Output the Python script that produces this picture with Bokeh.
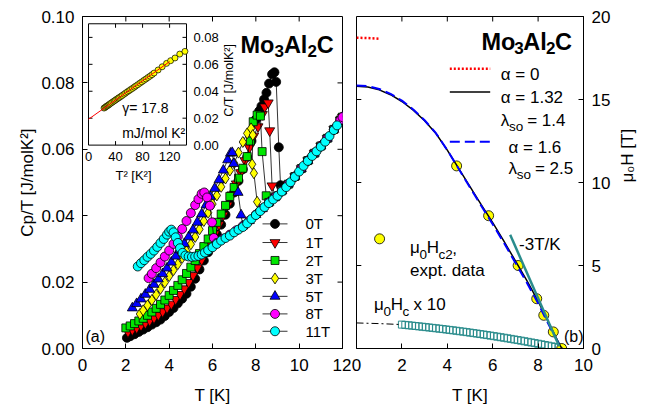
from math import pi
from bokeh.plotting import figure
from bokeh.models import Range1d, PrintfTickFormatter, Label
from bokeh.layouts import row
from bokeh.embed import file_html
from bokeh.resources import INLINE

FONT = "Liberation Sans"

# ---------------- Panel (a): Cp/T vs T ----------------
fields = ["0T", "1T", "2T", "3T", "5T", "8T", "11T"]
field_colors = ["#000000", "#ff0000", "#00e600", "#ffff00", "#0000ff", "#ff00ff", "#00ffff"]
field_markers = ["circle", "inverted_triangle", "square", "diamond", "triangle", "circle", "circle"]

T_0T = [2.05, 2.2, 2.4, 2.6, 2.8, 3.0, 3.2, 3.4, 3.6, 3.8, 4.0, 4.2, 4.4, 4.6, 4.8, 5.0, 5.2, 5.4, 5.6, 5.8,
        6.0, 6.2, 6.4, 6.6, 6.8, 7.0, 7.2, 7.4, 7.6, 7.8, 8.0, 8.15, 8.26, 8.38, 8.49, 8.61, 8.75, 8.86, 8.94, 9.06, 9.14]
C_0T = [0.0032, 0.0037, 0.0043, 0.0050, 0.0057, 0.0064, 0.0072, 0.0079, 0.0087, 0.0098, 0.0110, 0.0122, 0.0136,
        0.0150, 0.0165, 0.0186, 0.0210, 0.0238, 0.0265, 0.0290, 0.0316, 0.0344, 0.0373, 0.0403, 0.0436, 0.0470,
        0.0505, 0.0540, 0.0577, 0.0625, 0.0690, 0.0715, 0.0730, 0.0750, 0.0770, 0.0798, 0.0826, 0.0832, 0.0803,
        0.0606, 0.0492]

T_1T = [2.1, 2.3, 2.5, 2.7, 2.9, 3.1, 3.3, 3.5, 3.7, 3.9, 4.1, 4.3, 4.5, 4.7, 4.9, 5.1, 5.3, 5.5, 5.7, 5.9,
        6.1, 6.3, 6.5, 6.7, 6.9, 7.1, 7.3, 7.5, 7.7, 7.9, 8.1, 8.3, 8.41, 8.57, 8.64, 8.75]
C_1T = [0.0050, 0.0056, 0.0062, 0.0069, 0.0076, 0.0084, 0.0092, 0.0101, 0.0111, 0.0122, 0.0134, 0.0148, 0.0163,
        0.0180, 0.0199, 0.0220, 0.0243, 0.0267, 0.0292, 0.0318, 0.0345, 0.0373, 0.0402, 0.0432, 0.0463, 0.0496,
        0.0530, 0.0566, 0.0605, 0.0640, 0.0668, 0.0705, 0.0728, 0.0740, 0.0656, 0.0490]

T_2T = [2.0, 2.2, 2.4, 2.6, 2.8, 3.0, 3.2, 3.4, 3.6, 3.8, 4.0, 4.2, 4.4, 4.6, 4.8, 5.0, 5.2, 5.4, 5.6, 5.8,
        6.0, 6.2, 6.4, 6.6, 6.8, 7.0, 7.2, 7.4, 7.6, 7.75, 7.88, 8.06, 8.21, 8.29, 8.48]
C_2T = [0.0062, 0.0068, 0.0075, 0.0083, 0.0091, 0.0100, 0.0110, 0.0121, 0.0133, 0.0146, 0.0160, 0.0175, 0.0190,
        0.0207, 0.0226, 0.0245, 0.0265, 0.0286, 0.0307, 0.0330, 0.0355, 0.0380, 0.0405, 0.0431, 0.0458, 0.0485,
        0.0513, 0.0543, 0.0578, 0.0625, 0.0683, 0.0703, 0.0700, 0.0593, 0.0460]

T_3T = [2.65, 2.8, 3.0, 3.2, 3.4, 3.6, 3.8, 4.0, 4.2, 4.4, 4.6, 4.8, 5.0, 5.2, 5.4, 5.6, 5.8, 6.0, 6.2, 6.4,
        6.6, 6.8, 7.0, 7.2, 7.4, 7.6, 7.78, 7.86, 7.83, 7.91, 8.06]
C_3T = [0.0104, 0.0115, 0.0130, 0.0146, 0.0162, 0.0180, 0.0199, 0.0218, 0.0236, 0.0254, 0.0273, 0.0293, 0.0314,
        0.0336, 0.0359, 0.0384, 0.0409, 0.0435, 0.0461, 0.0487, 0.0512, 0.0536, 0.0558, 0.0590, 0.0622, 0.0648,
        0.0663, 0.0643, 0.0555, 0.0528, 0.0442]

T_5T = [2.3, 2.5, 2.7, 2.9, 3.1, 3.3, 3.5, 3.7, 3.9, 4.1, 4.3, 4.5, 4.7, 4.9, 5.1, 5.3, 5.5, 5.7, 5.9, 6.1,
        6.3, 6.5, 6.7, 6.83, 6.91, 6.98, 7.18, 7.32]
C_5T = [0.0122, 0.0135, 0.0149, 0.0163, 0.0178, 0.0193, 0.0209, 0.0225, 0.0242, 0.0260, 0.0278, 0.0297, 0.0316,
        0.0336, 0.0357, 0.0380, 0.0405, 0.0432, 0.0458, 0.0482, 0.0508, 0.0537, 0.0568, 0.0588, 0.0590, 0.0557,
        0.0470, 0.0402]

T_8T = [3.05, 3.2, 3.4, 3.6, 3.8, 4.0, 4.2, 4.4, 4.6, 4.8, 5.0, 5.2, 5.35, 5.5, 5.62, 5.75, 5.88, 5.98, 6.06]
C_8T = [0.0212, 0.0225, 0.0242, 0.0259, 0.0277, 0.0295, 0.0315, 0.0337, 0.0360, 0.0384, 0.0408, 0.0432, 0.0450,
        0.0466, 0.0470, 0.0455, 0.0430, 0.0380, 0.0333]

T_11T = [2.55, 2.7, 2.85, 3.0, 3.15, 3.3, 3.45, 3.6, 3.75, 3.9, 4.0, 4.1, 4.2, 4.3, 4.4, 4.5, 4.62, 4.75, 4.9,
         5.05, 5.2, 5.35, 5.5, 5.65, 5.8, 6.0, 6.2, 6.4, 6.6, 6.8, 7.0, 7.2, 7.4, 7.6, 7.8, 8.0, 8.2, 8.4, 8.6,
         8.8, 9.0, 9.2, 9.4, 9.6, 9.8, 10.0, 10.2, 10.4, 10.6, 10.8, 11.0, 11.2, 11.4, 11.6, 11.75]
C_11T = [0.0247, 0.0257, 0.0266, 0.0276, 0.0285, 0.0295, 0.0306, 0.0318, 0.0330, 0.0343, 0.0352, 0.0358, 0.0350,
         0.0335, 0.0318, 0.0302, 0.0288, 0.0280, 0.0277, 0.0276, 0.0277, 0.0279, 0.0283, 0.0289, 0.0296, 0.0305,
         0.0315, 0.0325, 0.0333, 0.0340, 0.0350, 0.0358, 0.0366, 0.0377, 0.0390, 0.0402, 0.0414, 0.0426, 0.0438,
         0.0449, 0.0460, 0.0473, 0.0486, 0.0501, 0.0517, 0.0533, 0.0550, 0.0565, 0.0580, 0.0594, 0.0608, 0.0623,
         0.0640, 0.0658, 0.0672]

# normal-state points shared by the lower-field runs above their Tc
normal_T = [6.2, 6.5, 6.8, 7.1, 7.4, 7.7, 8.0, 8.3, 8.6, 8.9, 9.2, 9.5, 9.8, 10.1, 10.4, 10.7, 11.0, 11.3, 11.6, 11.9, 12.0]
normal_C = [0.0318, 0.0331, 0.0343, 0.0356, 0.0369, 0.0385, 0.0403, 0.0421, 0.0440, 0.0457, 0.0475, 0.0495, 0.0518,
            0.0542, 0.0566, 0.0588, 0.0610, 0.0633, 0.0660, 0.0688, 0.0697]

series_T = [T_0T, T_1T, T_2T, T_3T, T_5T, T_8T, T_11T]
series_C = [C_0T, C_1T, C_2T, C_3T, C_5T, C_8T, C_11T]

# inset: C/T vs T^2
inset_T2 = [23, 24.5, 26, 27.5, 29, 30.5, 32, 34, 36, 38, 40, 42, 44, 46, 48, 50, 52.5, 55, 57.5, 60, 62.5, 65,
            67.5, 70, 73, 76, 79, 82, 85, 88, 91, 94, 97, 103, 109, 115.5, 121.5, 128, 135, 142.7]
inset_C = [0.0275, 0.0280, 0.0286, 0.0291, 0.0296, 0.0301, 0.0307, 0.0314, 0.0321, 0.0328, 0.0335, 0.0342, 0.0349,
           0.0355, 0.0362, 0.0369, 0.0378, 0.0387, 0.0396, 0.0404, 0.0413, 0.0421, 0.0430, 0.0439, 0.0449, 0.0460,
           0.0470, 0.0481, 0.0491, 0.0502, 0.0512, 0.0523, 0.0535, 0.0558, 0.0582, 0.0607, 0.0627, 0.0647, 0.0676,
           0.0696]
inset_fit_T2 = [0, 120]
inset_fit_C = [0.0192, 0.0620]
inset_xticks = [0, 40, 80, 120]
inset_yticks = [0.00, 0.02, 0.04, 0.06, 0.08]

# ---------------- Panel (b): critical fields ----------------
hc2_T = [4.41, 5.82, 7.12, 7.94, 8.25, 8.67, 9.04]
hc2_H = [11.0, 8.0, 5.0, 3.0, 2.0, 1.0, 0.0]

whh_T = [0.0, 0.5, 1.0, 1.5, 2.0, 2.5, 3.0, 3.5, 4.0, 4.5, 5.0, 5.5, 6.0, 6.5, 7.0, 7.5, 8.0, 8.5, 9.0, 9.06]
whh_a132_H = [15.80, 15.75, 15.58, 15.29, 14.88, 14.36, 13.72, 12.95, 11.95, 10.85, 9.75, 8.65, 7.58, 6.45,
              5.28, 4.10, 2.85, 1.45, 0.10, 0.0]
whh_a16_H = [15.85, 15.80, 15.63, 15.34, 14.93, 14.40, 13.75, 12.97, 11.95, 10.83, 9.70, 8.58, 7.48, 6.35,
             5.16, 3.97, 2.72, 1.35, 0.05, 0.0]
whh_a0_T = [0.0, 0.5, 1.0]
whh_a0_H = [18.72, 18.70, 18.66]

slope_T = [6.77, 8.93]
slope_H = [6.85, 0.14]

hc_T = [2.00, 2.15, 2.30, 2.45, 2.60, 2.75, 2.90, 3.05, 3.20, 3.35, 3.50, 3.65, 3.80, 3.95, 4.10, 4.25, 4.40,
        4.55, 4.70, 4.85, 5.00, 5.15, 5.30, 5.45, 5.60, 5.75, 5.90, 6.05, 6.20, 6.35, 6.50, 6.65, 6.80, 6.95,
        7.10, 7.25, 7.40, 7.55, 7.70, 7.85, 8.00, 8.15, 8.30, 8.45, 8.60, 8.75, 8.90, 9.05]
hc_H = [1.440, 1.419, 1.398, 1.377, 1.355, 1.333, 1.311, 1.288, 1.265, 1.242, 1.218, 1.194, 1.170, 1.145, 1.120,
        1.094, 1.068, 1.041, 1.014, 0.986, 0.958, 0.929, 0.900, 0.870, 0.840, 0.809, 0.777, 0.745, 0.713, 0.680,
        0.647, 0.613, 0.579, 0.544, 0.509, 0.473, 0.437, 0.400, 0.363, 0.325, 0.287, 0.249, 0.210, 0.170, 0.130,
        0.089, 0.047, 0.005]
hc_extrap_T = [0.0, 1.0, 1.95]
hc_extrap_H = [1.54, 1.50, 1.445]

# ---------------- layout (page pixels) ----------------
XL, YL = (0, 12), (0, 0.1)
XR, YR = (0, 10), (0, 20)
LF_X0, LF_X1 = 82, 342
RF_X0, RF_X1 = 356, 592
F_Y0, F_Y1 = 16, 349
IN_X0, IN_X1, IN_Y0, IN_Y1 = 88, 186, 23.3, 145
IN_XR = (0, 145)
IN_YR = (0, 0.0901)
W1, W2, H = 351, 298, 407
TICK = 5


def lx(px): return XL[0] + (px - LF_X0) / (LF_X1 - LF_X0) * (XL[1] - XL[0])
def ly(py): return YL[0] + (F_Y1 - py) / (F_Y1 - F_Y0) * (YL[1] - YL[0])
def rx(px): return XR[0] + (px - RF_X0) / (RF_X1 - RF_X0) * (XR[1] - XR[0])
def ry(py): return YR[0] + (F_Y1 - py) / (F_Y1 - F_Y0) * (YR[1] - YR[0])
def ix(px): return IN_XR[0] + (px - IN_X0) / (IN_X1 - IN_X0) * (IN_XR[1] - IN_XR[0])
def iy(py): return IN_YR[0] + (IN_Y1 - py) / (IN_Y1 - IN_Y0) * (IN_YR[1] - IN_YR[0])


CW = {' ': 0.278, '(': 0.333, ')': 0.333, ',': 0.278, '-': 0.333, '.': 0.278, '/': 0.278, '=': 0.584,
      '[': 0.278, ']': 0.278, 'A': 0.667, 'C': 0.722, 'H': 0.722, 'J': 0.5, 'K': 0.667, 'M': 0.833,
      'T': 0.611, 'a': 0.556, 'b': 0.556, 'c': 0.5, 'd': 0.556, 'e': 0.556, 'l': 0.222, 'm': 0.833,
      'o': 0.556, 'p': 0.556, 's': 0.5, 't': 0.278, 'x': 0.5, 'α': 0.58, 'λ': 0.5, 'μ': 0.576,
      'γ': 0.5, '²': 0.333}
for d in "0123456789":
    CW[d] = 0.556
CWB = dict(CW)
CWB.update({'o': 0.611, 'A': 0.722, 'l': 0.278})


def tw(s, size, bold=False):
    tab = CWB if bold else CW
    return sum(tab.get(ch, 0.55) for ch in s) * size


def label(fig, x, y, text, size, align="left", baseline="middle", bold=False, angle=0, **kw):
    fig.add_layout(Label(x=x, y=y, text=text, text_font=FONT, text_font_size=f"{size}px",
                         text_font_style="bold" if bold else "normal", text_align=align,
                         text_baseline=baseline, text_color="black", angle=angle, **kw))


def rich(fig, cx, cy, x_px, base_px, pieces):
    x = x_px
    for text, size, dy, bold in pieces:
        core = text.lstrip(" ")
        x += tw(text[:len(text) - len(core)], size, bold)
        label(fig, cx(x), cy(base_px + dy), core, size, baseline="alphabetic", bold=bold)
        x += tw(core, size, bold)


def style_axis(ax):
    ax.major_tick_in = TICK
    ax.major_tick_out = 0
    ax.minor_tick_line_color = None
    ax.major_tick_line_color = "black"
    ax.axis_line_color = "black"
    ax.major_label_text_font = FONT
    ax.major_label_text_font_size = "17px"
    ax.major_label_text_color = "black"
    ax.axis_label_text_font = FONT
    ax.axis_label_text_font_size = "17px"
    ax.axis_label_text_font_style = "normal"
    ax.axis_label_text_color = "black"


def mirror_ticks(fig, cx, cy, xticks, yticks, side_px):
    # inward ticks on the top edge and on the unlabeled side edge
    ytop = cy(F_Y0)
    yin = cy(F_Y0 + TICK)
    fig.segment(x0=xticks, x1=xticks, y0=[ytop] * len(xticks), y1=[yin] * len(xticks),
                line_color="black", line_width=1)
    xe = cx(side_px[0])
    xi = cx(side_px[1])
    fig.segment(x0=[xe] * len(yticks), x1=[xi] * len(yticks), y0=yticks, y1=yticks,
                line_color="black", line_width=1)


# ---------------- left figure ----------------
p1 = figure(width=W1, height=H, x_range=Range1d(*XL), y_range=Range1d(*YL),
            output_backend="svg", toolbar_location=None,
            min_border_left=LF_X0, min_border_right=W1 - LF_X0 - (LF_X1 - LF_X0),
            min_border_top=F_Y0, min_border_bottom=H - F_Y1)
p1.grid.visible = False
p1.outline_line_color = "black"
p1.outline_line_width = 1
xt_l = [0, 2, 4, 6, 8, 10, 12]
yt_l = [0.0, 0.02, 0.04, 0.06, 0.08, 0.10]
p1.xaxis.ticker = xt_l
p1.yaxis.ticker = yt_l
p1.yaxis.formatter = PrintfTickFormatter(format="%.2f")
for ax in p1.xaxis + p1.yaxis:
    style_axis(ax)
p1.xaxis.axis_label = "T [K]"
p1.yaxis.axis_label = "Cp/T [J/molK²]"
p1.xaxis.major_label_standoff = 10
p1.xaxis.axis_label_standoff = 12
p1.yaxis.major_label_standoff = 8
p1.yaxis.axis_label_standoff = 1
mirror_ticks(p1, lx, ly, xt_l[1:-1], yt_l[1:-1], (LF_X1, LF_X1 - TICK))

msize = {"circle": 9, "inverted_triangle": 10, "square": 8, "diamond": 11, "triangle": 10}
for name, col, mk, Ts, Cs in zip(fields, field_colors, field_markers, series_T, series_C):
    T = list(Ts)
    C = list(Cs)
    if name != "11T":
        for t, c in zip(normal_T, normal_C):
            if t > Ts[-1] + 0.05:
                T.append(t)
                C.append(c)
    p1.line(T, C, line_color="black", line_width=0.8)
    p1.scatter(T, C, marker=mk, size=msize[mk], fill_color=col, line_color="black", line_width=0.8)

# legend (a)
leg_rows = [224, 242.7, 260.7, 278.7, 296.7, 314.3, 331.7]
for name, col, mk, yr in zip(fields, field_colors, field_markers, leg_rows):
    p1.line([lx(262), lx(287)], [ly(yr), ly(yr)], line_color="black", line_width=0.8)
    p1.scatter([lx(274.5)], [ly(yr)], marker=mk, size=msize[mk], fill_color=col, line_color="black",
               line_width=0.8)
    label(p1, lx(305), ly(yr), name, 15)

rich(p1, lx, ly, 240, 45, [("Mo", 23.5, 0, True), ("3", 17, 6, True), ("Al", 23.5, 0, True),
                           ("2", 17, 6, True), ("C", 23.5, 0, True)])
label(p1, lx(85), ly(337), "(a)", 16)

# inset
p1.extra_x_ranges = {"ix": Range1d(ix(LF_X0), ix(LF_X1))}
p1.extra_y_ranges = {"iy": Range1d(iy(F_Y1), iy(F_Y0))}
IR = dict(x_range_name="ix", y_range_name="iy")
p1.quad(left=[IN_XR[0]], right=[IN_XR[1]], bottom=[IN_YR[0]], top=[IN_YR[1]], fill_color="white",
        line_color="black", line_width=1, **IR)
tdx = ix(IN_X0 + 4) - ix(IN_X0)
tdy = iy(IN_Y1 - 4) - iy(IN_Y1)
xt_in = [v for v in inset_xticks if IN_XR[0] < v < IN_XR[1]]
yt_in = [v for v in inset_yticks if IN_YR[0] < v < IN_YR[1]]
p1.segment(x0=xt_in, x1=xt_in, y0=[IN_YR[0]] * len(xt_in), y1=[IN_YR[0] + tdy] * len(xt_in),
           line_color="black", line_width=1, **IR)
p1.segment(x0=xt_in, x1=xt_in, y0=[IN_YR[1]] * len(xt_in), y1=[IN_YR[1] - tdy] * len(xt_in),
           line_color="black", line_width=1, **IR)
p1.segment(x0=[IN_XR[0]] * len(yt_in), x1=[IN_XR[0] + tdx] * len(yt_in), y0=yt_in, y1=yt_in,
           line_color="black", line_width=1, **IR)
p1.segment(x0=[IN_XR[1]] * len(yt_in), x1=[IN_XR[1] - tdx] * len(yt_in), y0=yt_in, y1=yt_in,
           line_color="black", line_width=1, **IR)
for v in inset_xticks:
    label(p1, v, iy(IN_Y1 + 7), f"{v:g}", 13, align="center", baseline="top", **IR)
for v in inset_yticks:
    label(p1, ix(IN_X1 + 7), v, f"{v:.2f}", 13, align="left", baseline="middle", **IR)
p1.scatter(inset_T2, inset_C, marker="circle", size=6, fill_color="#ffff00", line_color="black",
           line_width=0.7, **IR)
p1.line(inset_fit_T2, inset_fit_C, line_color="red", line_width=1, **IR)
label(p1, ix(228), iy(80), "C/T [J/molK²]", 12.5, align="center", baseline="middle", angle=pi / 2, **IR)
label(p1, ix(133), iy(175), "T² [K²]", 13, align="center", baseline="middle", **IR)
label(p1, ix(121.7), iy(108), "γ= 17.8", 14, **IR)
label(p1, ix(121.7), iy(133), "mJ/mol K²", 14, **IR)

# ---------------- right figure ----------------
p2 = figure(width=W2, height=H, x_range=Range1d(*XR), y_range=Range1d(*YR),
            output_backend="svg", toolbar_location=None, y_axis_location="right",
            min_border_left=RF_X0 - W1, min_border_right=W2 - (RF_X0 - W1) - (RF_X1 - RF_X0),
            min_border_top=F_Y0, min_border_bottom=H - F_Y1)
p2.grid.visible = False
p2.outline_line_color = "black"
p2.outline_line_width = 1
xt_r = [0, 2, 4, 6, 8, 10]
yt_r = [0, 5, 10, 15, 20]
p2.xaxis.ticker = xt_r
p2.yaxis.ticker = yt_r
for ax in p2.xaxis + p2.yaxis:
    style_axis(ax)
p2.xaxis.axis_label = "T [K]"
p2.xaxis.major_label_standoff = 10
p2.xaxis.axis_label_standoff = 12
p2.yaxis.major_label_standoff = 8
yax = p2.yaxis[0]
yax.axis_label = "μ₀H [T]"
yax.axis_label_standoff = 14
if "axis_label_orientation" in yax.properties():
    yax.axis_label_orientation = pi / 2
mirror_ticks(p2, rx, ry, xt_r[1:-1], yt_r[1:-1], (RF_X0, RF_X0 + TICK))

TEAL = "#2a8c8c"
p2.scatter(hc_T, hc_H, marker="square", size=7, fill_color=None, line_color=TEAL, line_width=1)
p2.line(hc_extrap_T, hc_extrap_H, line_color="black", line_width=1, line_dash="7 3 2 3")
p2.scatter(hc2_T, hc2_H, marker="circle", size=10, fill_color="#ffff00", line_color="black", line_width=0.8)
p2.line(whh_a0_T, whh_a0_H, line_color="red", line_width=2.5, line_dash="2 2")
p2.line(whh_T, whh_a132_H, line_color="black", line_width=1.5)
p2.line(whh_T, whh_a16_H, line_color="#0000ff", line_width=2, line_dash="10 5")
p2.line(slope_T, slope_H, line_color=TEAL, line_width=2.5)

# legend (b)
p2.line([rx(453), rx(495)], [ry(68.3), ry(68.3)], line_color="red", line_width=2.5, line_dash="2 2")
p2.line([rx(453), rx(495)], [ry(91.7), ry(91.7)], line_color="black", line_width=1.5)
p2.line([rx(453), rx(497)], [ry(141.7), ry(141.7)], line_color="#0000ff", line_width=2, line_dash="10 5")
p2.scatter([rx(380)], [ry(239)], marker="circle", size=10, fill_color="#ffff00", line_color="black",
           line_width=0.8)

S, SS = 17, 13.5
rich(p2, rx, ry, 506, 74, [("α = 0", S, 0, False)])
rich(p2, rx, ry, 506, 97.5, [("α = 1.32", S, 0, False)])
rich(p2, rx, ry, 506, 120.5, [("λ", S, 0, False), ("so", SS, 5.5, False), (" = 1.4", S, 0, False)])
rich(p2, rx, ry, 514, 147.5, [("α = 1.6", S, 0, False)])
rich(p2, rx, ry, 514, 168.5, [("λ", S, 0, False), ("so", SS, 5.5, False), (" = 2.5", S, 0, False)])
rich(p2, rx, ry, 411.7, 248, [("μ", S, 0, False), ("0", SS, 7, False), ("H", S, 0, False),
                              ("c2", SS, 7, False), (",", S, 0, False)])
rich(p2, rx, ry, 411.7, 271, [("expt. data", S, 0, False)])
rich(p2, rx, ry, 525, 245, [("-3T/K", S, 0, False)])
rich(p2, rx, ry, 374.3, 305, [("μ", S, 0, False), ("0", SS, 7, False), ("H", S, 0, False),
                              ("c", SS, 7, False), (" x 10", S, 0, False)])
label(p2, rx(571.7), ry(336.7), "(b)", 16)
rich(p2, rx, ry, 486, 41.7, [("Mo", 23.5, 0, True), ("3", 17, 6, True), ("Al", 23.5, 0, True),
                             ("2", 17, 6, True), ("C", 23.5, 0, True)])

layout = row(p1, p2)
open("out.html", "w").write(file_html(layout, INLINE))
